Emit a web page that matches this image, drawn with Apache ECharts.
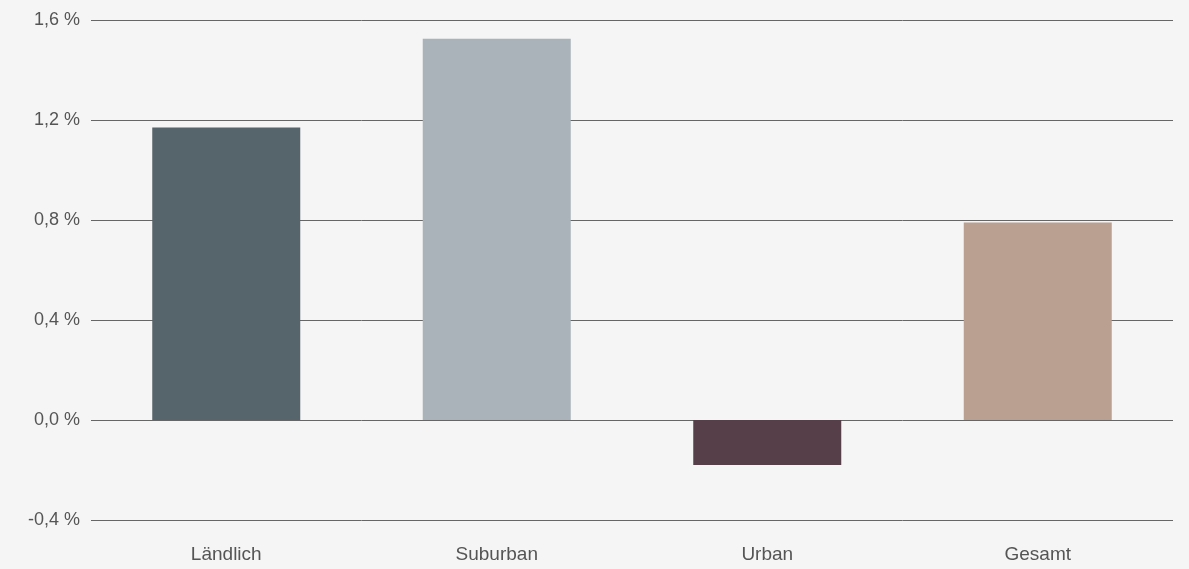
<!DOCTYPE html>
<html><head><meta charset="utf-8">
<script src="https://cdn.jsdelivr.net/npm/echarts@6/dist/echarts.min.js"></script>
<style>html,body{margin:0;padding:0;background:#f5f5f5;}#c{width:1189px;height:569px;}</style>
</head><body><div id="c"></div>
<script>
const categories = ['Ländlich', 'Suburban', 'Urban', 'Gesamt'];
const values = [1.17, 1.525, -0.18, 0.79];
const barColors = ['#56646b', '#a9b3b9', '#573f49', '#baa091'];
const yTicks = [-0.4, 0, 0.4, 0.8, 1.2, 1.6];

const chart = echarts.init(document.getElementById('c'), null, {renderer: 'canvas'});
chart.setOption({
  backgroundColor: '#f5f5f5',
  animation: false,
  grid: {left: 91, right: 16, top: 20, bottom: 49, containLabel: false},
  xAxis: {
    type: 'category', data: categories,
    axisLine: {show: false}, axisTick: {show: false},
    axisLabel: {color: '#555', fontSize: 19, fontFamily: '"Liberation Sans", Arial, sans-serif', margin: 25}
  },
  yAxis: {
    type: 'value', min: yTicks[0], max: yTicks[yTicks.length - 1], interval: 0.4,
    axisLine: {show: false}, axisTick: {show: false},
    splitLine: {lineStyle: {color: '#666', width: 1}},
    axisLabel: {color: '#555', fontSize: 18, fontFamily: '"Liberation Sans", Arial, sans-serif', margin: 11,
      formatter: v => v.toFixed(1).replace('.', ',') + ' %'}
  },
  series: [{
    type: 'bar', barWidth: 148,
    data: values.map((v, i) => ({value: v, itemStyle: {color: barColors[i]}}))
  }]
});
</script></body></html>
